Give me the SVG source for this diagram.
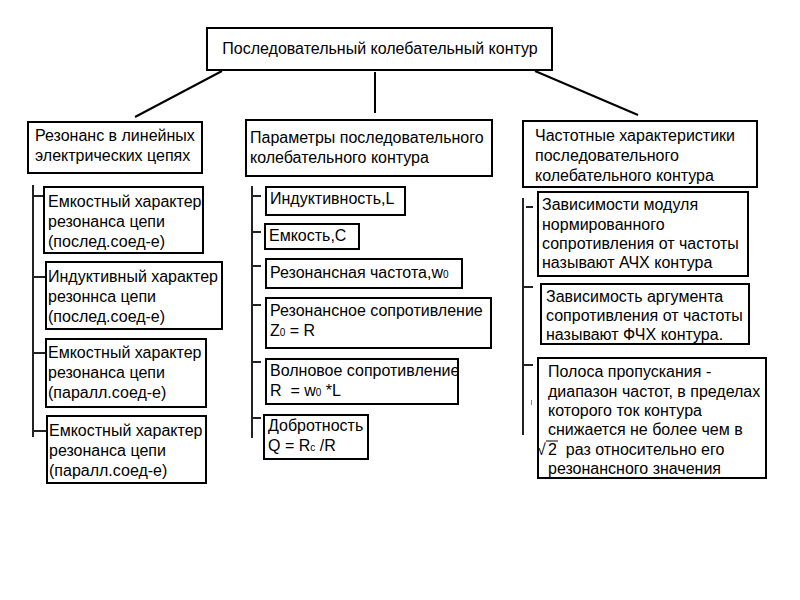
<svg xmlns="http://www.w3.org/2000/svg" width="800" height="600" viewBox="0 0 800 600">
<style>
  .box { fill: #ffffff; stroke: #000000; stroke-width: 2; }
  .t { font-family: "Liberation Sans", Arial, sans-serif; font-size: 16px; fill: #000000; }
  .sub { font-size: 10px; }
  .con { stroke: #000000; stroke-width: 2; fill: none; }
  .rail { stroke: #222222; stroke-width: 2; fill: none; }
</style>
<rect width="800" height="600" fill="#ffffff"/>

<g id="connectors">
  <line class="con" x1="222" y1="71" x2="135" y2="117"/>
  <line class="con" x1="375" y1="72" x2="375" y2="113"/>
  <line class="con" x1="535" y1="71" x2="638" y2="115"/>
  <!-- left rail -->
  <line class="rail" x1="33" y1="185" x2="33" y2="437"/>
  <line class="rail" x1="33" y1="196" x2="44" y2="196"/>
  <line class="rail" x1="33" y1="277" x2="46" y2="277"/>
  <line class="rail" x1="33" y1="353" x2="46" y2="353"/>
  <line class="rail" x1="33" y1="431" x2="47" y2="431"/>
  <!-- middle rail -->
  <line class="rail" x1="252" y1="186" x2="252" y2="438"/>
  <line class="rail" x1="252" y1="196" x2="261" y2="196"/>
  <line class="rail" x1="252" y1="232" x2="261" y2="232"/>
  <line class="rail" x1="252" y1="266" x2="261" y2="266"/>
  <line class="rail" x1="252" y1="305" x2="261" y2="305"/>
  <line class="rail" x1="252" y1="362" x2="261" y2="362"/>
  <line class="rail" x1="252" y1="418" x2="261" y2="418"/>
  <!-- right rail -->
  <line class="rail" x1="523" y1="198" x2="523" y2="435"/>
  <line class="rail" x1="526" y1="207" x2="533" y2="207"/>
  <line class="rail" x1="523" y1="287" x2="533" y2="287"/>
  <line class="rail" x1="523" y1="365" x2="533" y2="365"/>
  <line stroke="#888888" stroke-width="1" x1="531.5" y1="400" x2="531.5" y2="405"/>
</g>

<g id="root">
  <rect class="box" x="207" y="28" width="345" height="42"/>
  <text class="t" x="380" y="54" text-anchor="middle">Последовательный колебательный контур</text>
</g>

<g id="resonance">
  <rect class="box" x="28" y="122" width="174" height="51"/>
  <text class="t" x="35" y="141">Резонанс в линейных</text>
  <text class="t" x="35" y="161">электрических цепях</text>
</g>
<g id="params">
  <rect class="box" x="246" y="120" width="246" height="56"/>
  <text class="t" x="250" y="143">Параметры последовательного</text>
  <text class="t" x="250" y="163">колебательного контура</text>
</g>
<g id="freqchar">
  <rect class="box" x="523" y="121" width="234" height="66"/>
  <text class="t" x="535" y="141">Частотные характеристики</text>
  <text class="t" x="535" y="161">последовательного</text>
  <text class="t" x="535" y="181">колебательного контура</text>
</g>

<g id="l1">
  <rect class="box" x="44" y="187" width="159" height="66"/>
  <text class="t" x="48" y="207">Емкостный характер</text>
  <text class="t" x="48" y="227">резонанса цепи</text>
  <text class="t" x="48" y="247">(послед.соед-е)</text>
</g>
<g id="l2">
  <rect class="box" x="46" y="262" width="176" height="67"/>
  <text class="t" x="48" y="282">Индуктивный характер</text>
  <text class="t" x="48" y="302">резоннса цепи</text>
  <text class="t" x="48" y="322">(послед.соед-е)</text>
</g>
<g id="l3">
  <rect class="box" x="46" y="339" width="160" height="68"/>
  <text class="t" x="48" y="358">Емкостный характер</text>
  <text class="t" x="48" y="378">резонанса цепи</text>
  <text class="t" x="48" y="398">(паралл.соед-е)</text>
</g>
<g id="l4">
  <rect class="box" x="47" y="416" width="159" height="67"/>
  <text class="t" x="49" y="436">Емкостный характер</text>
  <text class="t" x="49" y="456">резонанса цепи</text>
  <text class="t" x="49" y="476">(паралл.соед-е)</text>
</g>

<g id="m1">
  <rect class="box" x="266" y="187" width="139" height="28"/>
  <text class="t" x="270" y="204">Индуктивность,L</text>
</g>
<g id="m2">
  <rect class="box" x="265" y="224" width="94" height="25"/>
  <text class="t" x="269" y="241">Емкость,C</text>
</g>
<g id="m3">
  <rect class="box" x="266" y="259" width="196" height="29"/>
  <text class="t" x="270" y="278">Резонансная частота,w<tspan class="sub">0</tspan></text>
</g>
<g id="m4">
  <rect class="box" x="266" y="298" width="225" height="50"/>
  <text class="t" x="270" y="316">Резонансное сопротивление</text>
  <text class="t" x="270" y="336">Z<tspan class="sub">0</tspan> = R</text>
</g>
<g id="m5">
  <rect class="box" x="266" y="359" width="192" height="45"/>
  <text class="t" x="270" y="376">Волновое сопротивление</text>
  <text class="t" x="270" y="396" xml:space="preserve">R  = w<tspan class="sub">0</tspan> *L</text>
</g>
<g id="m6">
  <rect class="box" x="264" y="415" width="104" height="44"/>
  <text class="t" x="268" y="431">Добротность</text>
  <text class="t" x="268" y="451">Q = R<tspan class="sub">c</tspan> /R</text>
</g>

<g id="r1">
  <rect class="box" x="538" y="192" width="210" height="84"/>
  <text class="t" x="542" y="210">Зависимости модуля</text>
  <text class="t" x="542" y="230">нормированного</text>
  <text class="t" x="542" y="249">сопротивления от частоты</text>
  <text class="t" x="542" y="268">называют АЧХ контура</text>
</g>
<g id="r2">
  <rect class="box" x="541" y="284" width="208" height="60"/>
  <text class="t" x="546" y="302">Зависимость аргумента</text>
  <text class="t" x="546" y="321">сопротивления от частоты</text>
  <text class="t" x="546" y="340">называют ФЧХ контура.</text>
</g>
<g id="r3">
  <rect class="box" x="538" y="358" width="228" height="120"/>
  <text class="t" x="548" y="377">Полоса пропускания -</text>
  <text class="t" x="548" y="397">диапазон частот, в пределах</text>
  <text class="t" x="548" y="416">которого ток контура</text>
  <text class="t" x="548" y="435">снижается не более чем в</text>
  <text class="t" x="537" y="455">√</text>
  <line x1="546" y1="441" x2="558" y2="441" stroke="#000000" stroke-width="1"/>
  <text class="t" x="548" y="455" xml:space="preserve">2  раз относительно его</text>
  <text class="t" x="548" y="474">резонансного значения</text>
</g>
</svg>
